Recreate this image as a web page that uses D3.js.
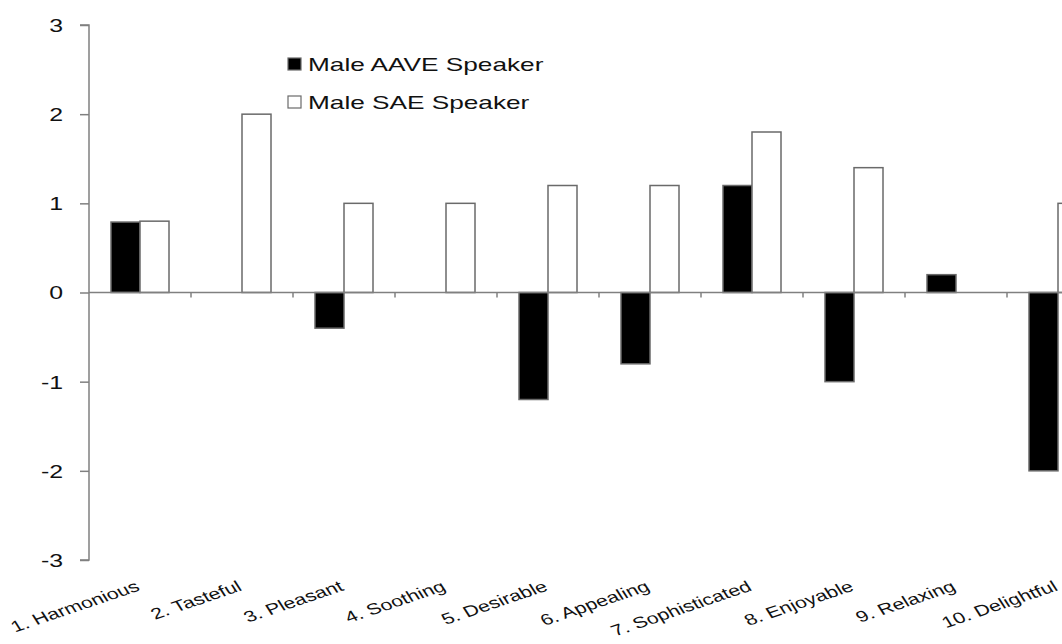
<!DOCTYPE html>
<html>
<head>
<meta charset="utf-8">
<script src="https://cdn.jsdelivr.net/npm/d3@7"></script>
<style>
  html, body { margin: 0; padding: 0; background: #fff; overflow: hidden; }
  svg { display: block; font-family: "Liberation Sans", Arial, sans-serif; }
</style>
</head>
<body>
<svg id="chart" width="1062" height="644"></svg>
<script>
const categories = ["1. Harmonious", "2. Tasteful", "3. Pleasant", "4. Soothing", "5. Desirable",
                    "6. Appealing", "7. Sophisticated", "8. Enjoyable", "9. Relaxing", "10. Delightful"];
const seriesNames = ["Male AAVE Speaker", "Male SAE Speaker"];
const aaveValues = [0.79, 0, -0.4, 0, -1.2, -0.8, 1.2, -1.0, 0.2, -2.0];
const saeValues  = [0.8, 2.0, 1.0, 1.0, 1.2, 1.2, 1.8, 1.4, 0, 1.0];
const yTicks = [-3, -2, -1, 0, 1, 2, 3];
const yTickLabels = ["-3", "-2", "-1", "0", "1", "2", "3"];

const SX = 1.38; // horizontal stretch of the reference image text
const svg = d3.select("#chart");

const x0 = d3.scaleBand().domain(categories).range([89, 1109]).paddingInner(0).paddingOuter(0);
const x1 = d3.scaleBand().domain(seriesNames).range([22, 80]).padding(0);
const y = d3.scaleLinear().domain([-3, 3]).range([560, 25]);

const fills = { "Male AAVE Speaker": "#000000", "Male SAE Speaker": "#ffffff" };

// bars
const data = categories.map((c, i) => ({ cat: c, vals: [
  { s: seriesNames[0], v: aaveValues[i] },
  { s: seriesNames[1], v: saeValues[i] } ] }));

const groups = svg.append("g").selectAll("g").data(data).join("g")
  .attr("transform", d => `translate(${x0(d.cat)},0)`);
groups.selectAll("rect").data(d => d.vals.filter(e => e.v !== 0)).join("rect")
  .attr("x", e => x1(e.s))
  .attr("width", x1.bandwidth())
  .attr("y", e => y(Math.max(0, e.v)))
  .attr("height", e => Math.abs(y(e.v) - y(0)))
  .attr("fill", e => fills[e.s])
  .attr("stroke", "#6a6a6a")
  .attr("stroke-width", 1.5);

// y axis
const yAxis = svg.append("g").attr("transform", "translate(89,0)")
  .call(d3.axisLeft(y).tickValues(yTicks).tickSize(9)
    .tickFormat(d => yTickLabels[yTicks.indexOf(d)]));
yAxis.select(".domain").attr("stroke", "#808080").attr("stroke-width", 1.5).attr("d", `M-9,${y(3)}H0V${y(-3)}H-9`);
yAxis.selectAll(".tick line").attr("stroke", "#808080").attr("stroke-width", 1.5);
yAxis.selectAll(".tick text")
  .attr("x", -26 / SX).attr("dy", "0.36em")
  .attr("transform", `scale(${SX},1)`)
  .attr("font-size", 18).attr("fill", "#111")
  .attr("font-family", "'Liberation Sans', Arial, sans-serif");

// x axis along zero
const xAxisG = svg.append("g").attr("transform", `translate(0,${y(0)})`);
xAxisG.append("line").attr("x1", 89).attr("x2", 1109).attr("y1", 0).attr("y2", 0)
  .attr("stroke", "#808080").attr("stroke-width", 1.5);
xAxisG.selectAll("line.tk").data(categories.slice(1)).join("line").attr("class", "tk")
  .attr("x1", d => x0(d)).attr("x2", d => x0(d)).attr("y1", 0).attr("y2", 5)
  .attr("stroke", "#808080").attr("stroke-width", 1.5);

// category labels
svg.append("g").selectAll("text").data(categories).join("text")
  .attr("transform", d => `translate(${x0(d) + x0.bandwidth() / 2 + 1},590) scale(${SX},1) rotate(-25)`)
  .attr("text-anchor", "end")
  .attr("font-size", 15.5)
  .attr("fill", "#111")
  .text(d => d);

// legend
const legend = svg.append("g");
const legendRows = legend.selectAll("g").data(seriesNames).join("g")
  .attr("transform", (d, i) => `translate(288,${71 + i * 38})`);
legendRows.append("rect").attr("x", 0).attr("y", -13).attr("width", 13).attr("height", 12)
  .attr("fill", d => fills[d]).attr("stroke", "#6a6a6a").attr("stroke-width", 1.2);
legendRows.append("text").attr("transform", `translate(20,0) scale(${SX},1)`)
  .attr("font-size", 19).attr("fill", "#111").text(d => d);
</script>
</body>
</html>
